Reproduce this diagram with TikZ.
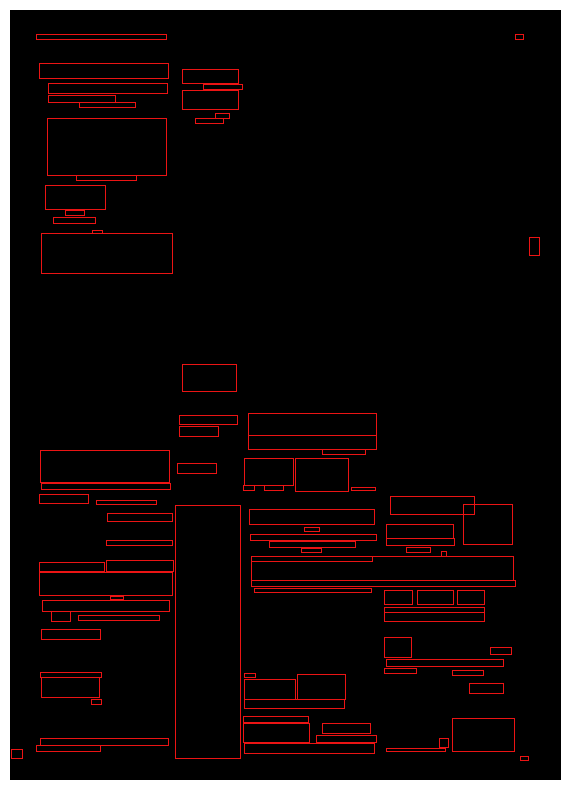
\documentclass[tikz,border=0pt]{standalone}
\definecolor{bx}{RGB}{235,20,20}
\newcommand\bx[4]{\draw[box] ({round(#1)+0.5},{round(#2)+0.5}) rectangle ({round(#3)+0.5},{round(#4)+0.5});}
\begin{document}
\begin{tikzpicture}[x=1bp,y=-1bp,box/.style={draw=bx,line width=1.4bp}]
\useasboundingbox (0,0) rectangle (570,790);
\fill[white] (0,0) rectangle (570,790);
\fill[black] (10,10) rectangle (561,780);
% left column top
\bx{36.3}{34}{165.7}{38.7}
\bx{39.3}{63}{167.7}{78.3}
\bx{48.3}{83.3}{166.7}{93.3}
\bx{48.3}{95.3}{114.7}{102.3}
\bx{79}{102.3}{134.7}{107.3}
\bx{47}{118}{165.7}{174.7}
\bx{76.3}{174.7}{135.7}{179.7}
\bx{45}{185}{105.3}{209.3}
\bx{65.3}{210}{84.3}{215.3}
\bx{53}{217.3}{95.3}{223.3}
\bx{92.3}{230}{102.3}{233}
\bx{41}{232.7}{171.7}{272.7}
% top middle
\bx{182}{69}{238.3}{83.3}
\bx{203.3}{84}{241.7}{89.3}
\bx{182}{90}{237.7}{109.3}
\bx{215.3}{113.3}{228.7}{118.3}
\bx{195}{118}{223.3}{122.7}
% top right
\bx{515}{34.3}{522.7}{39.3}
\bx{529}{237}{538.7}{254.7}
% middle column
\bx{182}{364}{235.7}{391.3}
\bx{179.3}{415}{236.7}{424.3}
\bx{179.3}{426.3}{217.7}{435.7}
\bx{177.3}{463.3}{215.7}{472.7}
\bx{175}{505}{239.7}{757.7}
% left column lower
\bx{40}{450}{168.7}{482.3}
\bx{41}{483.3}{169.7}{488.7}
\bx{39}{494.3}{87.7}{503.3}
\bx{96.3}{500.3}{155.7}{503.7}
\bx{107}{513}{171.7}{520.7}
\bx{106}{540}{171.7}{544.7}
\bx{39.3}{562.3}{103.7}{570.7}
\bx{106.3}{560.3}{172.7}{570.7}
\bx{39.3}{572.3}{171.7}{595.3}
\bx{110.3}{596}{122.7}{598.7}
\bx{42.3}{600.3}{168.7}{610.7}
\bx{51}{611.3}{69.7}{620.7}
\bx{78.3}{615}{158.7}{619.7}
\bx{41}{629}{99.7}{639.3}
\bx{40.3}{672.3}{100.7}{677.3}
\bx{41.3}{677.3}{99}{696.7}
\bx{91.3}{699}{100.7}{703.7}
\bx{40.3}{738.3}{167.7}{745.3}
\bx{36.3}{745.3}{99.7}{751.3}
\bx{11}{749.3}{21.7}{757.7}
% right region
\bx{248.3}{413.3}{375.7}{435}
\bx{248.3}{435}{375.7}{448.7}
\bx{322.3}{448.7}{364.7}{454.3}
\bx{244.3}{458.3}{292.7}{485.3}
\bx{295.3}{458.3}{347.7}{491.3}
\bx{243.3}{485.3}{253.7}{490.3}
\bx{264.3}{485.3}{282.7}{490.3}
\bx{351.3}{487.3}{374.7}{490.3}
\bx{390.3}{496.3}{473.7}{513.7}
\bx{463}{504.3}{511.7}{544.3}
\bx{249.3}{509}{373.7}{524.3}
\bx{304.3}{527.3}{318.7}{530.7}
\bx{250.3}{534.3}{375.7}{540.3}
\bx{269.3}{541}{354.7}{547.3}
\bx{301.3}{548}{320.7}{551.7}
\bx{386.3}{524.3}{452.7}{538.3}
\bx{386.3}{538.3}{453.7}{545.3}
\bx{406.3}{547}{429.7}{551.7}
\bx{441}{551}{445.7}{556.3}
\bx{251.3}{556.3}{513}{580.3}
\bx{251.3}{556.3}{371.7}{560.7}
\bx{251.3}{580.3}{514.7}{586.3}
\bx{254.3}{588.3}{370.7}{591.7}
\bx{384.3}{590.3}{411.7}{604.3}
\bx{417.3}{590.3}{452.7}{604.3}
\bx{457.3}{590.3}{483.7}{604.3}
\bx{384.3}{607}{483.7}{611.7}
\bx{384.3}{611.7}{483.7}{620.7}
% lower right
\bx{384.3}{637}{410.7}{656.7}
\bx{490.3}{647.3}{510.7}{653.7}
\bx{386.3}{659.3}{502.7}{665.7}
\bx{384.3}{668.3}{415.7}{672.7}
\bx{452.3}{670.3}{482.7}{674.7}
\bx{469}{683}{502.7}{692.7}
\bx{244.3}{673}{254.7}{677.3}
\bx{244.3}{679}{294.7}{698.7}
\bx{297.3}{674.3}{344.7}{698.7}
\bx{244.3}{698.7}{343.7}{707.7}
\bx{243.3}{716.3}{307.7}{722.3}
\bx{243.3}{723.3}{308.7}{741.7}
\bx{322.3}{723.3}{369.7}{733.3}
\bx{316.3}{735}{375.7}{742.3}
\bx{244.3}{743}{373.7}{753.3}
\bx{439.3}{738}{447.7}{746.7}
\bx{386.3}{748}{444.7}{751.3}
\bx{452.3}{718}{513.7}{751.3}
\bx{520.3}{756}{527.7}{759.7}
\end{tikzpicture}
\end{document}
